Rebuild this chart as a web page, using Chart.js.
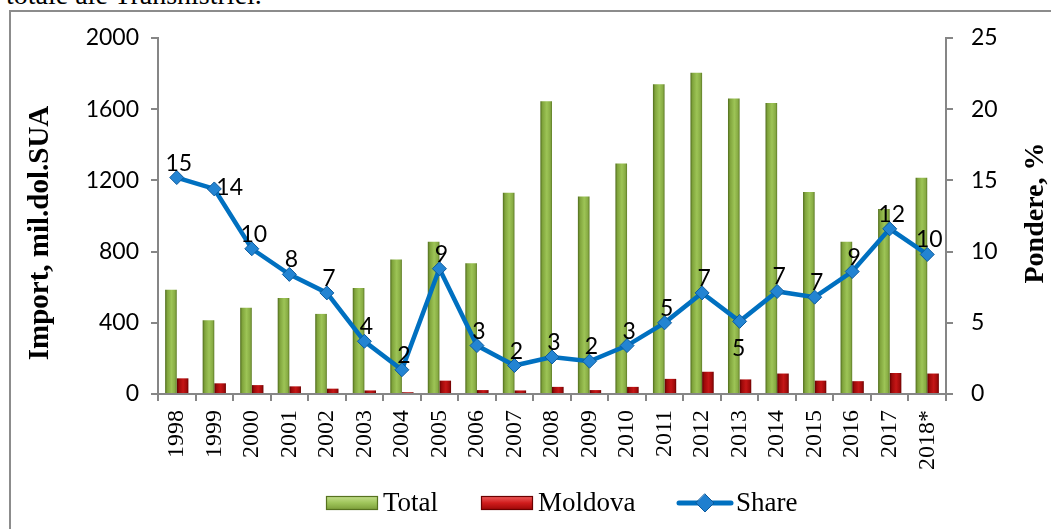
<!DOCTYPE html>
<html>
<head>
<meta charset="utf-8">
<script src="https://cdn.jsdelivr.net/npm/chart.js@4/dist/chart.umd.min.js"></script>
<style>
  html, body { margin: 0; padding: 0; background: #fff; width: 1051px; height: 529px; overflow: hidden; }
  #frame { position: absolute; left: 9px; top: 10px; width: 1100px; height: 600px; border-left: 2px solid #8c8c8c; border-top: 2px solid #8c8c8c; }
  #caption { position: absolute; left: 6px; top: -19px; font-family: "Liberation Serif", "Times New Roman", serif; font-size: 28px; line-height: 28px; color: #000; white-space: nowrap; }
  #wrap { position: absolute; left: 0; top: 0; width: 1051px; height: 529px; }
</style>
</head>
<body>
<div id="caption">totale ale Transnistriei.</div>
<div id="frame"></div>
<div id="wrap"><canvas id="c" width="1051" height="529"></canvas></div>
<script>
// ---- data ----
const categories = ['1998','1999','2000','2001','2002','2003','2004','2005','2006','2007','2008','2009','2010','2011','2012','2013','2014','2015','2016','2017','2018*'];
const totalImport = [585, 415, 485, 540, 450, 595, 755, 855, 735, 1130, 1645, 1110, 1295, 1740, 1805, 1660, 1635, 1135, 855, 1040, 1215];
const moldovaImport = [88, 60, 50, 43, 30, 20, 10, 75, 22, 20, 40, 22, 40, 85, 125, 82, 115, 75, 72, 118, 115];
const sharePct = [15.2, 14.4, 10.2, 8.4, 7.1, 3.7, 1.7, 8.8, 3.4, 2.0, 2.6, 2.3, 3.4, 5.0, 7.1, 5.1, 7.2, 6.8, 8.6, 11.6, 9.8];
const leftTicks = [0, 400, 800, 1200, 1600, 2000];
const rightTicks = [0, 5, 10, 15, 20, 25];
const seriesNames = ['Total', 'Moldova', 'Share'];
const leftTitle = 'Import, mil.dol.SUA';
const rightTitle = 'Pondere, %';

// ---- style config ----
const labelPosition = categories.map((c, i) => i === 1 ? 'right' : (i === 15 ? 'bottom' : 'top'));
const CAT_PCT = 0.62;
const axisColor = '#868686';
const tickFont = { family: 'Lato', size: 23 };
const serif = '"Liberation Serif", "Times New Roman", serif';

function barGradient(ctx, which) {
  const chart = ctx.chart;
  const xs = chart.scales && chart.scales.x;
  const solid = which === 0 ? '#8aac44' : '#b00d0d';
  if (ctx.type !== 'data' || !xs || !isFinite(xs.width) || xs.width <= 0) return solid;
  const c = xs.getPixelForValue(ctx.dataIndex);
  const pair = (xs.width / categories.length) * CAT_PCT;
  const l = which === 0 ? c - pair / 2 : c;
  const r = l + pair / 2;
  const g = chart.ctx.createLinearGradient(l, 0, r, 0);
  if (which === 0) {
    g.addColorStop(0, '#4f6b1c');
    g.addColorStop(0.18, '#80a43c');
    g.addColorStop(0.55, '#9dc456');
    g.addColorStop(0.85, '#88ac44');
    g.addColorStop(1, '#5d7b26');
  } else {
    g.addColorStop(0, '#5c0000');
    g.addColorStop(0.2, '#9e0a0a');
    g.addColorStop(0.55, '#c51616');
    g.addColorStop(0.85, '#a10b0b');
    g.addColorStop(1, '#680000');
  }
  return g;
}

const dataLabelPlugin = {
  id: 'shareLabels',
  afterDatasetsDraw(chart) {
    const meta = chart.getDatasetMeta(2);
    const ctx = chart.ctx;
    ctx.save();
    ctx.font = '23px Lato';
    ctx.fillStyle = '#000';
    ctx.textBaseline = 'alphabetic';
    meta.data.forEach((pt, i) => {
      const txt = String(Math.round(sharePct[i]));
      const pos = labelPosition[i];
      if (pos === 'right') {
        ctx.textAlign = 'left';
        ctx.fillText(txt, pt.x + 2, pt.y + 6);
      } else if (pos === 'bottom') {
        ctx.textAlign = 'center';
        ctx.fillText(txt, pt.x - 1, pt.y + 35);
      } else {
        ctx.textAlign = 'center';
        ctx.fillText(txt, pt.x + 2, pt.y - 7);
      }
    });
    ctx.restore();
  }
};

const decorPlugin = {
  id: 'decor',
  afterDraw(chart) {
    const ctx = chart.ctx;
    ctx.save();
    // axis titles
    ctx.fillStyle = '#000';
    ctx.textAlign = 'center';
    ctx.textBaseline = 'alphabetic';
    ctx.font = 'bold 29px ' + serif;
    ctx.save();
    ctx.translate(48, 233);
    ctx.rotate(-Math.PI / 2);
    ctx.fillText(leftTitle, 0, 0);
    ctx.restore();
    ctx.font = 'bold 28px ' + serif;
    ctx.save();
    ctx.translate(1043, 213);
    ctx.rotate(-Math.PI / 2);
    ctx.fillText(rightTitle, 0, 0);
    ctx.restore();

    // legend
    const ly = 503;
    const drawBox = (x, w, c1, c2, c3, edge) => {
      const g = ctx.createLinearGradient(0, ly - 7, 0, ly + 7);
      g.addColorStop(0, c1); g.addColorStop(0.5, c2); g.addColorStop(1, c3);
      ctx.fillStyle = g;
      ctx.fillRect(x, ly - 7, w, 14);
      ctx.strokeStyle = edge; ctx.lineWidth = 1.2;
      ctx.strokeRect(x + 0.5, ly - 6.5, w - 1, 13);
    };
    drawBox(326, 52, '#c6e08e', '#9ec45a', '#7a9c38', '#56721f');
    drawBox(481, 52, '#f06060', '#d01c1c', '#9a0606', '#6a0000');
    ctx.strokeStyle = '#0070c0'; ctx.lineWidth = 5; ctx.lineCap = 'round';
    ctx.beginPath(); ctx.moveTo(679, ly); ctx.lineTo(731, ly); ctx.stroke();
    ctx.beginPath();
    ctx.moveTo(705, ly - 9); ctx.lineTo(714, ly); ctx.lineTo(705, ly + 9); ctx.lineTo(696, ly); ctx.closePath();
    ctx.fillStyle = '#1f7fcf'; ctx.fill();
    ctx.strokeStyle = '#0c5a9c'; ctx.lineWidth = 1; ctx.stroke();
    ctx.fillStyle = '#000';
    ctx.font = '27px ' + serif;
    ctx.textAlign = 'left';
    ctx.fillText(seriesNames[0], 383, 511);
    ctx.fillText(seriesNames[1], 538, 511);
    ctx.fillText(seriesNames[2], 736, 511);
    ctx.restore();
  }
};

const gridCfg = { drawOnChartArea: false, drawTicks: true, tickLength: 7, color: axisColor, lineWidth: 2 };
const borderCfg = { display: true, color: axisColor, width: 2 };
const plainNumber = (v) => String(v);

new Chart(document.getElementById('c'), {
  data: {
    labels: categories,
    datasets: [
      { type: 'bar', label: seriesNames[0], data: totalImport, yAxisID: 'y', order: 2,
        backgroundColor: (ctx) => barGradient(ctx, 0), borderWidth: 0,
        categoryPercentage: CAT_PCT, barPercentage: 1.0 },
      { type: 'bar', label: seriesNames[1], data: moldovaImport, yAxisID: 'y', order: 2,
        backgroundColor: (ctx) => barGradient(ctx, 1), borderWidth: 0,
        categoryPercentage: CAT_PCT, barPercentage: 1.0 },
      { type: 'line', label: seriesNames[2], data: sharePct, yAxisID: 'y2', order: 0,
        borderColor: '#0070c0', borderWidth: 4.5, tension: 0,
        pointStyle: 'rectRot', pointRadius: 7, pointBackgroundColor: '#2384d2',
        pointBorderColor: '#0d5c9e', pointBorderWidth: 1 }
    ]
  },
  options: {
    responsive: false,
    animation: false,
    devicePixelRatio: 1,
    layout: { padding: { top: 38, left: 0, right: 0, bottom: 0 } },
    plugins: { legend: { display: false }, tooltip: { enabled: false } },
    scales: {
      x: {
        offset: true,
        grid: Object.assign({ offset: true }, gridCfg),
        border: borderCfg,
        ticks: { autoSkip: false, maxRotation: 90, minRotation: 90, color: '#000',
                 font: { family: 'Liberation Serif', size: 24 }, padding: 9 },
        afterFit: (s) => { s.height = 135; s.paddingLeft = 0; s.paddingRight = 0; }
      },
      y: {
        position: 'left', min: 0, max: 2000,
        afterBuildTicks: (s) => { s.ticks = leftTicks.map(v => ({ value: v })); },
        grid: gridCfg, border: borderCfg,
        ticks: { color: '#000', font: tickFont, padding: 12, callback: plainNumber },
        afterFit: (s) => { s.width = 158; s.paddingTop = 0; s.paddingBottom = 0; }
      },
      y2: {
        position: 'right', min: 0, max: 25,
        afterBuildTicks: (s) => { s.ticks = rightTicks.map(v => ({ value: v })); },
        grid: gridCfg, border: borderCfg,
        ticks: { color: '#000', font: tickFont, padding: 18, callback: plainNumber },
        afterFit: (s) => { s.width = 105; s.paddingTop = 0; s.paddingBottom = 0; }
      }
    }
  },
  plugins: [dataLabelPlugin, decorPlugin]
});
</script>
</body>
</html>
